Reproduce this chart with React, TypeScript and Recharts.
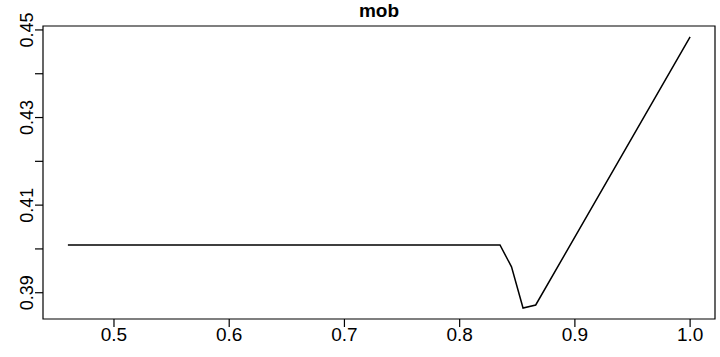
import { LineChart, Line, XAxis, YAxis, ReferenceArea } from "recharts";

const xValues = [0.46, 0.835, 0.845, 0.855, 0.866, 1.0];
const mobValues = [0.4009, 0.4009, 0.3959, 0.3865, 0.3872, 0.4484];

const xTicks = [0.5, 0.6, 0.7, 0.8, 0.9, 1.0];
const yTicks = [0.39, 0.4, 0.41, 0.42, 0.43, 0.44, 0.45];
const yLabelled = ["0.39", "0.41", "0.43", "0.45"];

const xDomain = [0.4384, 1.0216];
const yDomain = [0.384, 0.4509];

const data = xValues.map((x, i) => ({ x, mob: mobValues[i] }));

const font = "Liberation Sans, Arial, sans-serif";

// R style ticks: line outward from the box, label one line further
function YTick(props: any) {
  const { x, y, payload } = props;
  const label = payload.value.toFixed(2);
  const tx = x - 9.5;
  return (
    <g>
      <line x1={x - 8} x2={x} y1={y} y2={y} stroke="#000" strokeWidth={1.2} />
      {yLabelled.includes(label) && (
        <text
          x={tx}
          y={y}
          transform={`rotate(-90 ${tx} ${y})`}
          textAnchor="middle"
          fontSize={18}
          fontFamily={font}
          fill="#000"
        >
          {label}
        </text>
      )}
    </g>
  );
}

function XTick(props: any) {
  const { x, y, payload } = props;
  return (
    <g>
      <rect x={x - 0.6} y={y} width={1.2} height={8} fill="#000" />
      <text
        x={x}
        y={y + 22}
        textAnchor="middle"
        fontSize={19}
        fontFamily={font}
        fill="#000"
      >
        {payload.value.toFixed(1)}
      </text>
    </g>
  );
}

export default function App() {
  return (
    <div style={{ position: "absolute", left: 0, top: 0, background: "#fff" }}>
      <div
        style={{
          position: "absolute",
          left: 43,
          width: 672,
          top: 0,
          textAlign: "center",
          fontFamily: font,
          fontWeight: "bold",
          fontSize: 19,
        }}
      >
        mob
      </div>
      <LineChart
        width={720}
        height={357}
        data={data}
        margin={{ top: 26, right: 5, bottom: 0, left: 0 }}
      >
        <XAxis
          dataKey="x"
          type="number"
          domain={xDomain}
          ticks={xTicks}
          allowDataOverflow
          axisLine={false}
          tickLine={false}
          tickSize={0}
          tickMargin={0}
          tick={<XTick />}
          height={38}
        />
        <YAxis
          type="number"
          domain={yDomain}
          ticks={yTicks}
          allowDataOverflow
          axisLine={false}
          tickLine={false}
          tickSize={0}
          tickMargin={0}
          tick={<YTick />}
          width={43}
        />
        <ReferenceArea
          x1={xDomain[0]}
          x2={xDomain[1]}
          y1={yDomain[0]}
          y2={yDomain[1]}
          fill="none"
          stroke="#000"
          strokeWidth={1.2}
          ifOverflow="visible"
        />
        <Line
          type="linear"
          dataKey="mob"
          stroke="#000"
          strokeWidth={1.5}
          dot={false}
          isAnimationActive={false}
        />
      </LineChart>
    </div>
  );
}
